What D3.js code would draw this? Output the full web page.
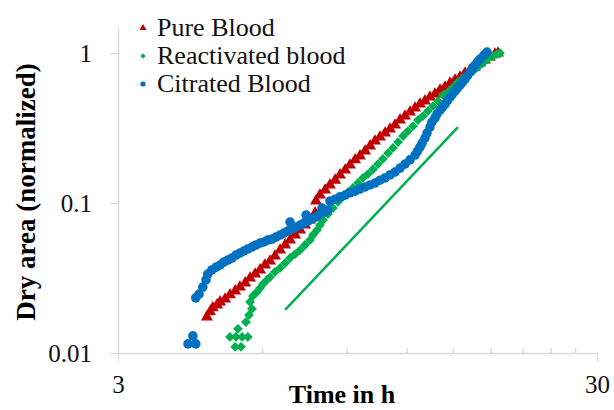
<!DOCTYPE html>
<html>
<head>
<meta charset="utf-8">
<script src="https://cdn.jsdelivr.net/npm/d3@7"></script>
<style>
  body { margin: 0; background: #fff; }
  svg { display: block; font-family: "Liberation Serif", "Times New Roman", serif; }
</style>
</head>
<body>
<div id="chart"></div>
<script>
// data: [time in h, normalized dry area]
var pureBlood = [
  [4.60,0.0174],[4.67,0.0188],[4.73,0.0200],[4.83,0.0209],[4.90,0.0219],[5.02,0.0229],
  [5.14,0.0244],[5.27,0.0259],[5.39,0.0275],[5.53,0.0293],[5.66,0.0316],[5.80,0.0336],
  [5.94,0.0358],[6.08,0.0386],[6.23,0.0410],[6.38,0.0443],[6.54,0.0486],[6.70,0.0525],
  [6.86,0.0567],[7.03,0.0612],[7.20,0.0661],[7.37,0.0713],[7.55,0.0770],[7.74,0.0858],
  [7.77,0.103],[7.92,0.113],[8.12,0.122],[8.31,0.132],[8.52,0.142],[8.72,0.154],
  [8.94,0.166],[9.15,0.179],[9.38,0.194],[9.60,0.206],[9.84,0.222],[10.08,0.240],
  [10.32,0.259],[10.57,0.275],[10.83,0.293],[11.09,0.311],[11.36,0.331],[11.64,0.358],
  [11.92,0.380],[12.21,0.404],[12.51,0.430],[12.81,0.457],[13.12,0.479],[13.44,0.509],
  [13.77,0.533],[14.11,0.567],[14.45,0.593],[14.80,0.631],[15.16,0.661],[15.53,0.692],
  [15.91,0.736],[16.29,0.770],[16.69,0.807],[17.10,0.858],[17.51,0.898],[17.94,0.940],
  [18.37,0.985],[18.64,1.0]
];

var reactivatedBlood = [
  [5.27,0.0110],[5.42,0.0110],[5.14,0.0128],[5.29,0.0128],[5.45,0.0128],[5.60,0.0128],
  [5.34,0.0145],[5.55,0.0161],[5.63,0.0179],[5.71,0.0197],[5.66,0.0219],[5.74,0.0240],
  [5.85,0.0255],[5.94,0.0271],[6.02,0.0288],[6.14,0.0307],[6.23,0.0321],[6.38,0.0347],
  [6.54,0.0369],[6.70,0.0398],[6.86,0.0430],[7.03,0.0457],[7.20,0.0486],[7.37,0.0525],
  [7.55,0.0567],[7.66,0.0612],[7.81,0.0661],[7.92,0.0713],[8.04,0.0770],[8.23,0.0845],
  [8.43,0.0926],[8.64,0.102],[8.85,0.110],[9.06,0.118],[9.28,0.126],[9.51,0.136],
  [9.74,0.147],[9.98,0.156],[10.22,0.168],[10.47,0.182],[10.72,0.197],[10.99,0.215],
  [11.25,0.233],[11.53,0.255],[11.81,0.280],[12.09,0.302],[12.39,0.326],[12.69,0.358],
  [13.00,0.380],[13.31,0.411],[13.64,0.443],[13.97,0.479],[14.31,0.525],[14.66,0.550],
  [15.01,0.593],[15.38,0.641],[15.75,0.681],[16.14,0.713],[16.53,0.759],[16.93,0.807],
  [17.34,0.858],[17.76,0.912],[18.20,0.955],[18.55,0.985],[18.82,1.0]
];

var citratedBlood = [
  [4.20,0.0115],[4.36,0.0115],[4.30,0.0130],[4.36,0.0233],[4.43,0.0247],[4.51,0.0275],
  [4.58,0.0307],[4.62,0.0336],[4.71,0.0358],[4.81,0.0374],[4.90,0.0386],[4.99,0.0404],
  [5.09,0.0417],[5.19,0.0430],[5.29,0.0450],[5.39,0.0464],[5.50,0.0479],[5.60,0.0494],
  [5.71,0.0509],[5.82,0.0525],[5.94,0.0541],[6.05,0.0550],[6.17,0.0567],[6.29,0.0575],
  [6.41,0.0593],[6.54,0.0612],[6.66,0.0631],[6.79,0.0651],[6.86,0.0747],[6.93,0.0671],
  [7.06,0.0692],[7.20,0.0713],[7.34,0.0736],[7.41,0.0832],[7.48,0.0759],[7.62,0.0782],
  [7.77,0.0807],[7.92,0.0845],[8.00,0.0926],[8.08,0.0871],[8.23,0.0898],[8.31,0.103],
  [8.52,0.106],[8.72,0.110],[8.94,0.113],[9.15,0.117],[9.38,0.120],[9.60,0.124],
  [9.84,0.128],[10.08,0.132],[10.32,0.136],[10.57,0.142],[10.83,0.147],[11.09,0.154],
  [11.36,0.161],[11.64,0.171],[11.92,0.182],[12.21,0.194],[12.51,0.209],[12.66,0.222],
  [12.81,0.236],[12.94,0.251],[13.12,0.271],[13.25,0.293],[13.44,0.321],[13.57,0.347],
  [13.77,0.369],[13.90,0.392],[14.11,0.417],[14.28,0.437],[14.45,0.457],[14.62,0.483],
  [14.80,0.509],[14.98,0.533],[15.16,0.558],[15.34,0.585],[15.53,0.612],[15.72,0.641],
  [15.91,0.671],[16.10,0.708],[16.29,0.747],[16.49,0.789],[16.69,0.832],[16.89,0.871],
  [17.10,0.912],[17.43,0.970],[17.68,1.015]
];

// slope guide line
var guideLine = [[6.70,0.0194],[15.38,0.321]];

var xTicks = [3, 30];
var xMinorTicks = [6, 9, 12, 15, 18, 21, 24, 27];
var yTicks = [0.01, 0.1, 1];
var yTop = 1.47;

var legendNames = ["Pure Blood", "Reactivated blood", "Citrated Blood"];

var W = 614, H = 410;

var x = d3.scaleLog().domain([3, 30]).range([118, 597]);
var y = d3.scaleLog().domain([0.01, yTop]).range([353, 28]);

var svg = d3.select("#chart").append("svg")
    .attr("width", W)
    .attr("height", H);

// Y axis
var yAxis = svg.append("g")
    .attr("transform", "translate(" + x(3) + ",0)")
    .call(d3.axisLeft(y).tickValues(yTicks).tickSize(8).tickSizeOuter(0)
      .tickFormat(d3.format("~g")));
yAxis.select(".domain").attr("stroke", "#d9d9d9").attr("stroke-width", 1.3);
yAxis.selectAll(".tick line").attr("stroke", "#d9d9d9").attr("stroke-width", 1.3);
yAxis.selectAll(".tick text")
    .attr("x", -26)
    .attr("dy", "0.33em")
    .style("font-size", "25px")
    .style("font-family", "Liberation Serif, serif")
    .attr("fill", "#111");

// X axis
var xAxis = svg.append("g")
    .attr("transform", "translate(0," + y(0.01) + ")")
    .call(d3.axisBottom(x).tickValues(xTicks).tickSize(8).tickSizeOuter(0)
      .tickFormat(d3.format("d")));
xAxis.select(".domain").attr("stroke", "#d9d9d9").attr("stroke-width", 1.3);
xAxis.selectAll(".tick line").attr("stroke", "#d9d9d9").attr("stroke-width", 1.3);
xAxis.selectAll(".tick text")
    .attr("y", 40)
    .attr("dy", 0)
    .style("font-size", "25px")
    .style("font-family", "Liberation Serif, serif")
    .attr("fill", "#111");

// minor ticks inside
var xMinor = svg.append("g")
    .attr("transform", "translate(0," + y(0.01) + ")")
    .call(d3.axisBottom(x).tickValues(xMinorTicks).tickSize(-5).tickSizeOuter(0)
      .tickFormat(""));
xMinor.select(".domain").remove();
xMinor.selectAll(".tick line").attr("stroke", "#d9d9d9").attr("stroke-width", 1.3);

// Axis titles
svg.append("text")
    .attr("transform", "translate(35," + 192 + ") rotate(-90)")
    .attr("text-anchor", "middle")
    .style("font-size", "27px")
    .style("font-weight", "bold")
    .text("Dry area (normalized)");

svg.append("text")
    .attr("x", 342)
    .attr("y", 403)
    .attr("text-anchor", "middle")
    .style("font-size", "26px")
    .style("font-weight", "bold")
    .text("Time in h");

// guide line
svg.append("path")
    .datum(guideLine)
    .attr("fill", "none")
    .attr("stroke", "#00b050")
    .attr("stroke-width", 2.5)
    .attr("d", d3.line().x(function(d) { return x(d[0]); }).y(function(d) { return y(d[1]); }));

var series = [
  { data: pureBlood, color: "#c00000", shape: "tri" },
  { data: reactivatedBlood, color: "#00b050", shape: "dia" },
  { data: citratedBlood, color: "#0070c0", shape: "dot" }
];

function marker(sel, shape, color, big) {
  if (shape === "tri") {
    sel.append("path").attr("d", d3.symbol().type(d3.symbolTriangle).size(big ? 62 : 22)())
       .attr("fill", color);
  } else if (shape === "dia") {
    sel.append("path").attr("d", d3.symbol().type(d3.symbolSquare).size(big ? 48 : 14)())
       .attr("transform", "rotate(45)")
       .attr("fill", color);
  } else {
    sel.append("circle").attr("r", big ? 4.8 : 2.6).attr("fill", color);
  }
}

series.forEach(function(s) {
  var g = svg.append("g");
  g.selectAll("g.pt")
    .data(s.data)
    .enter()
    .append("g")
    .attr("class", "pt")
    .attr("transform", function(d) { return "translate(" + x(d[0]) + "," + y(d[1]) + ")"; })
    .each(function() { marker(d3.select(this), s.shape, s.color, true); });
});

// Legend
var legend = svg.append("g");
legendNames.forEach(function(name, i) {
  var row = legend.append("g").attr("transform", "translate(0," + (i * 28) + ")");
  var m = row.append("g").attr("transform", "translate(143,28)");
  marker(m, series[i].shape, series[i].color, false);
  row.append("text")
     .attr("x", 157)
     .attr("y", 36)
     .style("font-size", "26px")
     .attr("fill", "#111")
     .text(name);
});
</script>
</body>
</html>
